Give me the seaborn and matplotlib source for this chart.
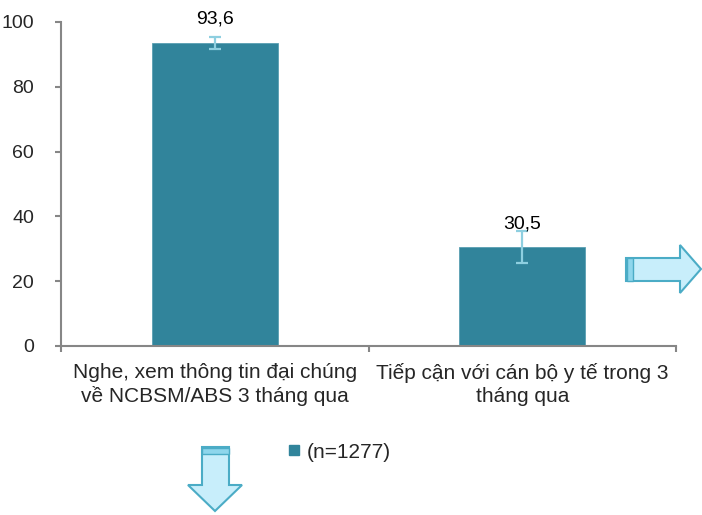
import matplotlib
matplotlib.use("Agg")
import matplotlib.pyplot as plt
from matplotlib.patches import Polygon, Rectangle
from matplotlib.lines import Line2D
import seaborn as sns
import pandas as pd

# Data
categories = [
    "Nghe, xem thông tin đại chúng\nvề NCBSM/ABS 3 tháng qua",
    "Tiếp cận với cán bộ y tế trong 3\ntháng qua",
]
values = [93.6, 30.5]
ci_low = [91.7, 25.5]
ci_high = [95.5, 35.5]
value_labels = ["93,6", "30,5"]
series_name = "(n=1277)"
y_ticks = [0, 20, 40, 60, 80, 100]

bar_color = "#31849B"
err_color = "#8ECFE0"
axis_color = "#868686"
arrow_fill = "#C8EEFB"
arrow_edge = "#4BACC6"

sns.set_theme(style="white")
plt.rcParams["font.family"] = ["Liberation Sans", "DejaVu Sans"]

df = pd.DataFrame({"category": categories, "value": values})

fig = plt.figure(figsize=(7.02, 5.15), dpi=100)
ax = fig.add_axes([61 / 702, 1 - 346 / 515, (676 - 61) / 702, (346 - 22) / 515])

sns.barplot(data=df, x="category", y="value", color=bar_color, width=0.41,
            errorbar=None, saturation=1, ax=ax, edgecolor="#5A9FB2", linewidth=0.6)

# error bars from the confidence bounds
xs = list(range(len(categories)))
yerr = [[v - lo for v, lo in zip(values, ci_low)],
        [hi - v for v, hi in zip(values, ci_high)]]
ax.errorbar(xs, values, yerr=yerr, fmt="none", ecolor=err_color,
            elinewidth=1.6, capsize=4.5, capthick=1.6, zorder=3)

# value labels above bars
for x, v, lab in zip(xs, values, value_labels):
    ax.annotate(lab, (x, v), xytext=(0, 17), textcoords="offset points",
                ha="center", va="center", fontsize=14, color="black", zorder=4)

ax.set_xlim(-0.5, 1.5)
ax.set_ylim(0, 100)
ax.set_yticks(y_ticks)
ax.set_yticklabels([str(t) for t in y_ticks], fontsize=14)
ax.set_xlabel("")
ax.set_ylabel("")

# category labels; boundary ticks drawn as minor ticks
ax.set_xticks(xs)
ax.set_xticklabels(categories, fontsize=15, linespacing=1.3)
ax.set_xticks([-0.5, 0.5, 1.5], minor=True)
ax.tick_params(axis="x", which="major", length=0, pad=12)
ax.tick_params(axis="x", which="minor", length=4.5, width=1.5, color=axis_color,
               direction="out", bottom=True)
ax.tick_params(axis="y", length=4.5, width=1.5, color=axis_color,
               direction="out", left=True, pad=15)

for side in ["top", "right"]:
    ax.spines[side].set_visible(False)
for side in ["left", "bottom"]:
    ax.spines[side].set_color(axis_color)
    ax.spines[side].set_linewidth(1.5)

# legend
handle = Line2D([], [], marker="s", linestyle="none", markersize=7.5,
                markerfacecolor=bar_color, markeredgecolor=bar_color)
fig.legend([handle], [series_name], loc="center",
           bbox_to_anchor=(338 / 702, 1 - 452 / 515), frameon=False,
           fontsize=15, handletextpad=0.2, handlelength=0.8)


# decorative block arrows (figure pixel coordinates)
def px(x, y):
    return (x / 702, 1 - y / 515)


right_arrow = [px(626, 258), px(680, 258), px(680, 245), px(701, 269),
               px(680, 293), px(680, 281), px(626, 281)]
down_arrow = [px(202, 447), px(229, 447), px(229, 485), px(242, 485),
              px(215, 511), px(188, 485), px(202, 485)]
for pts in (right_arrow, down_arrow):
    fig.patches.append(Polygon(pts, closed=True, transform=fig.transFigure,
                               facecolor=arrow_fill, edgecolor=arrow_edge,
                               linewidth=1.5, zorder=5))
# darker stripes at arrow tails
x0, y0 = px(627, 281)
fig.patches.append(Rectangle((x0, y0), 6 / 702, 23 / 515, transform=fig.transFigure,
                             facecolor="#8ED6EC", edgecolor=arrow_edge, linewidth=1.0, zorder=6))
x0, y0 = px(202, 454)
fig.patches.append(Rectangle((x0, y0), 27 / 702, 6 / 515, transform=fig.transFigure,
                             facecolor="#8ED6EC", edgecolor=arrow_edge, linewidth=1.0, zorder=6))

fig.savefig("out.png", dpi=100)
